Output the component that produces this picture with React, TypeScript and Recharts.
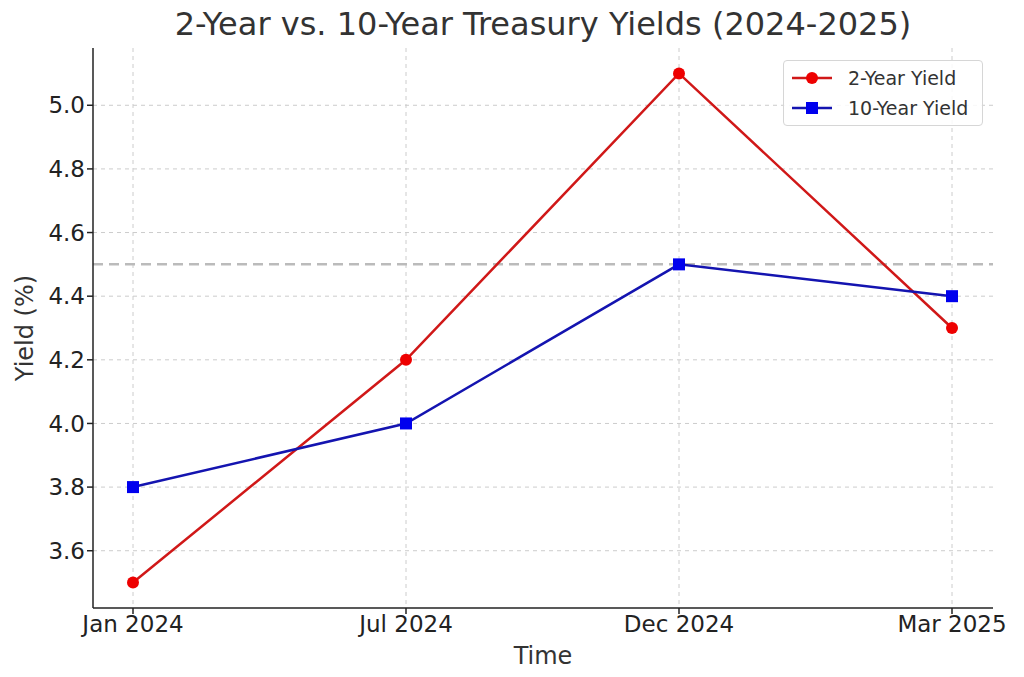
import {
  CartesianGrid,
  Line,
  LineChart,
  ReferenceLine,
  XAxis,
  YAxis,
} from 'recharts'

const periods = ['Jan 2024', 'Jul 2024', 'Dec 2024', 'Mar 2025']
const twoYear = [3.5, 4.2, 5.1, 4.3]
const tenYear = [3.8, 4.0, 4.5, 4.4]
const yTicks = [3.6, 3.8, 4.0, 4.2, 4.4, 4.6, 4.8, 5.0]
const inversionLevel = 4.5

const data = periods.map((p, i) => ({ period: p, two: twoYear[i], ten: tenYear[i] }))

const font = 'DejaVu Sans, sans-serif'

function SquareDot(props: any) {
  const { cx, cy } = props
  if (cx == null || cy == null) return null
  return <rect x={cx - 6} y={cy - 6} width={12} height={12} fill="#0000ee" />
}

function LegendBox() {
  const rows = [
    { label: '2-Year Yield', color: '#d01818', marker: 'circle' },
    { label: '10-Year Yield', color: '#1414b0', marker: 'square' },
  ]
  return (
    <div
      style={{
        position: 'absolute',
        left: 783,
        top: 60,
        width: 200,
        height: 66,
        boxSizing: 'border-box',
        border: '1px solid #d6d6d6',
        borderRadius: 4,
        background: 'rgba(255,255,255,0.85)',
        padding: '2px 6px',
        fontFamily: font,
        fontSize: 19,
        color: '#333',
      }}
    >
      {rows.map((r) => (
        <div key={r.label} style={{ display: 'flex', alignItems: 'center', height: 30 }}>
          <svg width={44} height={16} style={{ marginRight: 14 }}>
            <line x1={2} y1={8} x2={42} y2={8} stroke={r.color} strokeWidth={2.5} />
            {r.marker === 'circle' ? (
              <circle cx={22} cy={8} r={6} fill="#ee0000" />
            ) : (
              <rect x={16} y={2} width={12} height={12} fill="#0000ee" />
            )}
          </svg>
          {r.label}
        </div>
      ))}
    </div>
  )
}

const labelStyle = { position: 'absolute' as const, fontFamily: font, fontSize: 24, color: '#333' }

export default function App() {
  return (
    <div style={{ position: 'absolute', left: 0, top: 0, width: 1024, height: 677, background: '#fff' }}>
      <LineChart
        width={1024}
        height={677}
        data={data}
        margin={{ top: 48, right: 31, bottom: 0, left: 33 }}
      >
        <CartesianGrid stroke="#cccccc" strokeDasharray="4 4" syncWithTicks />
        <XAxis
          dataKey="period"
          padding={{ left: 40, right: 41 }}
          stroke="#222"
          strokeWidth={1.5}
          tickSize={6}
          height={69}
          tick={{ fontSize: 23, fill: '#222', fontFamily: font }}
        />
        <YAxis
          width={60}
          domain={[3.42, 5.18]}
          ticks={yTicks}
          allowDataOverflow
          tickFormatter={(v: number) => v.toFixed(1)}
          stroke="#222"
          strokeWidth={1.5}
          tickSize={6}
          tick={{ fontSize: 23, fill: '#222', fontFamily: font }}
        />
        <ReferenceLine y={inversionLevel} stroke="#bbbbbb" strokeWidth={2.5} strokeDasharray="10 6" />
        <Line
          dataKey="two"
          name="2-Year Yield"
          stroke="#d01818"
          strokeWidth={2.5}
          dot={{ r: 6, fill: '#ee0000', stroke: 'none' }}
          activeDot={false}
          isAnimationActive={false}
        />
        <Line
          dataKey="ten"
          name="10-Year Yield"
          stroke="#1414b0"
          strokeWidth={2.5}
          dot={<SquareDot />}
          activeDot={false}
          isAnimationActive={false}
        />
      </LineChart>
      <div
        style={{
          position: 'absolute',
          left: 93,
          width: 900,
          top: 5,
          textAlign: 'center',
          fontFamily: font,
          fontSize: 32,
          color: '#333',
        }}
      >
        2-Year vs. 10-Year Treasury Yields (2024-2025)
      </div>
      <div style={{ ...labelStyle, left: 93, width: 900, top: 642, textAlign: 'center' }}>Time</div>
      <div
        style={{
          ...labelStyle,
          left: 25,
          top: 328,
          transform: 'translate(-50%, -50%) rotate(-90deg)',
          whiteSpace: 'nowrap',
        }}
      >
        Yield (%)
      </div>
      <LegendBox />
    </div>
  )
}
